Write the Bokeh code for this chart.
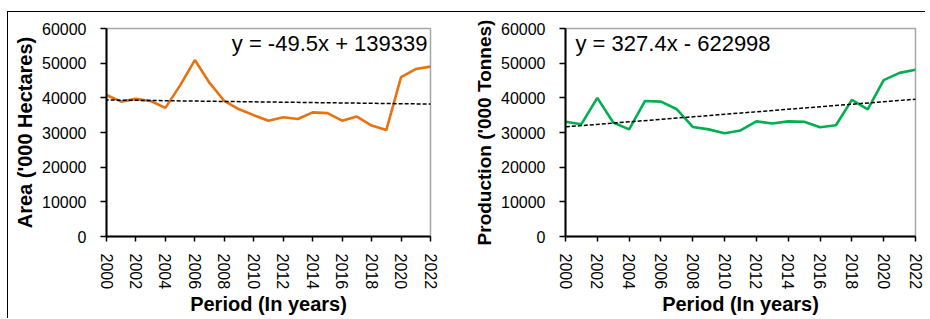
import numpy as np
from bokeh.plotting import figure
from bokeh.models import Range1d, FixedTicker, Slope, Label
from bokeh.layouts import row
from bokeh.embed import file_html
from bokeh.resources import INLINE

years = list(range(2000, 2023))
year_ticks = list(range(2000, 2023, 2))
y_ticks = [0, 10000, 20000, 30000, 40000, 50000, 60000]

area = [40800, 38900, 39700, 39100, 37100, 43600, 50900, 44300, 39100, 36700,
        35000, 33400, 34400, 33900, 35800, 35600, 33400, 34600, 32000, 30700,
        46000, 48300, 49000]
production = [33100, 32400, 40000, 32900, 30900, 39100, 38900, 36700, 31600, 30900,
              29800, 30600, 33200, 32600, 33200, 33100, 31500, 32100, 39400, 36700,
              45100, 47200, 48100]

area_eq = "y = -49.5x + 139339"
prod_eq = "y = 327.4x - 622998"
x_title = "Period (In years)"
area_title = "Area ('000 Hectares)"
prod_title = "Production ('000 Tonnes)"

FONT = "Liberation Sans"


def make(values, color, ytitle, eq, eq_left, width, bl, br, ytitle_size):
    p = figure(width=width, height=306, output_backend="svg", toolbar_location=None,
               x_range=Range1d(2000, 2022), y_range=Range1d(0, 60000),
               min_border_left=bl, min_border_right=br, min_border_top=16,
               min_border_bottom=78)
    p.outline_line_color = "#a6a6a6"
    p.outline_line_width = 1.5
    p.xgrid.visible = False
    p.ygrid.visible = False
    p.line(years, values, line_color=color, line_width=2.6)
    m, b = np.polyfit(years, values, 1)
    p.add_layout(Slope(gradient=m, y_intercept=b, line_color="black",
                       line_width=1.5, line_dash="4 2"))
    if eq_left:
        lab = Label(x=2000, y=60000, text=eq, x_offset=10, y_offset=-2,
                    text_align="left", text_baseline="top")
    else:
        lab = Label(x=2022, y=60000, text=eq, x_offset=-3, y_offset=-2,
                    text_align="right", text_baseline="top")
    lab.text_font = FONT
    lab.text_font_size = "22px"
    lab.text_color = "black"
    p.add_layout(lab)

    for ax in (p.xaxis[0], p.yaxis[0]):
        ax.axis_line_color = "black"
        ax.axis_line_width = 2
        ax.major_tick_line_color = "black"
        ax.major_tick_line_width = 1.5
        ax.major_tick_in = 0
        ax.minor_tick_line_color = None
        ax.major_label_text_font = FONT
        ax.major_label_text_font_size = "16px"
        ax.major_label_text_color = "black"
        ax.axis_label_text_font = FONT
        ax.axis_label_text_font_style = "bold"
        ax.axis_label_text_color = "black"

    xa = p.xaxis[0]
    xa.ticker = FixedTicker(ticks=year_ticks)
    xa.major_label_orientation = "vertical"
    xa.major_tick_out = 5
    xa.major_label_standoff = 12
    xa.axis_label = x_title
    xa.axis_label_standoff = 1
    xa.axis_label_text_font_size = "20px"

    ya = p.yaxis[0]
    ya.ticker = FixedTicker(ticks=y_ticks)
    ya.major_tick_out = 6
    ya.major_label_standoff = 14
    ya.axis_label = ytitle
    ya.axis_label_standoff = 3
    ya.axis_label_text_font_size = ytitle_size
    return p


p1 = make(area, "#E8720F", area_title, area_eq, False, 457, 98, 35, "20px")
p2 = make(production, "#00B050", prod_title, prod_eq, True, 460, 100, 10, "19px")

layout = row(p1, p2, styles={"border-top": "1px solid black",
                             "border-left": "1px solid black",
                             "margin-top": "11px",
                             "margin-left": "7px"})

open("out.html", "w").write(file_html(layout, INLINE))
